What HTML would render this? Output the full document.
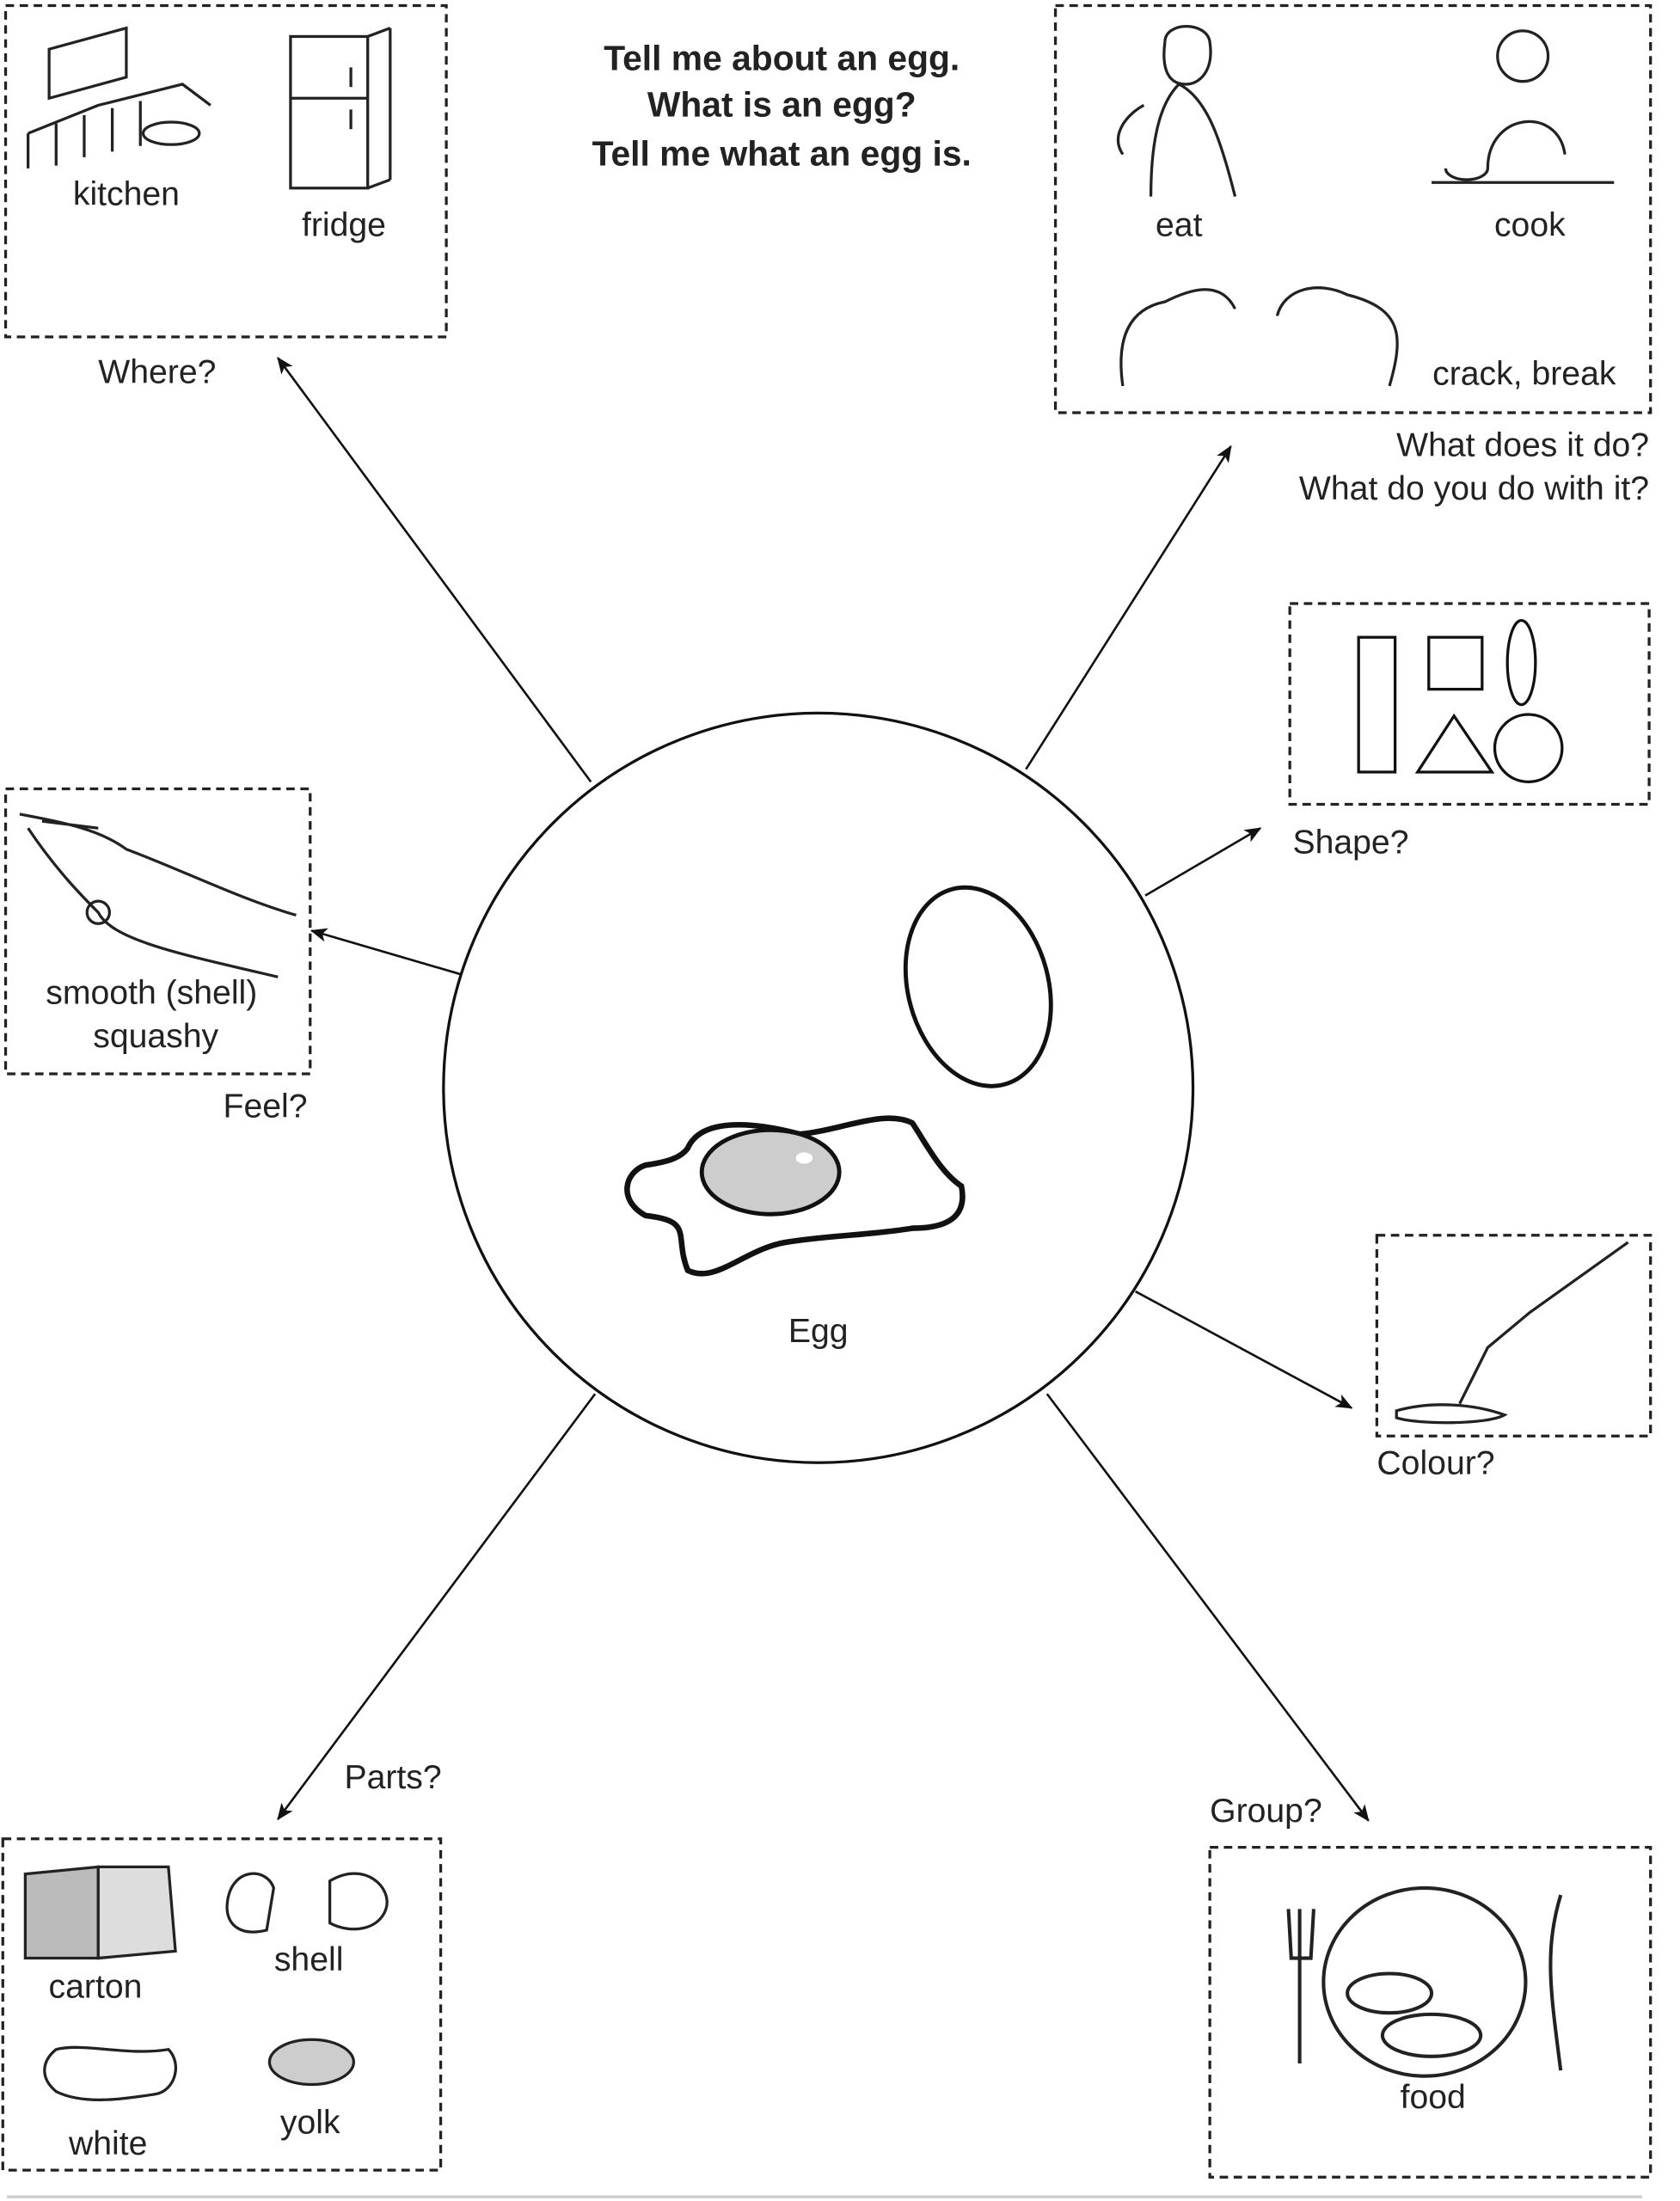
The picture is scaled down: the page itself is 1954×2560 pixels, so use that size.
<!DOCTYPE html>
<html><head><meta charset="utf-8"><style>
html,body{margin:0;padding:0;background:#fff}
svg{display:block}
text{font-family:"Liberation Sans",Arial,sans-serif;fill:#222}
</style></head><body>
<svg width="1954" height="2560" viewBox="0 0 1197 1568" preserveAspectRatio="none" xmlns="http://www.w3.org/2000/svg">
<defs>
<marker id="ah" markerWidth="12" markerHeight="10" refX="11" refY="5" orient="auto" markerUnits="userSpaceOnUse">
<path d="M0,0 L12,5 L0,10 L3,5 Z" fill="#111"/>
</marker>
</defs>
<g fill="none" stroke="#222" stroke-width="2" stroke-dasharray="6,4">
<rect x="4" y="4" width="314" height="236"/>
<rect x="752" y="4" width="424" height="290"/>
<rect x="919" y="430" width="256" height="143"/>
<rect x="4" y="562" width="217" height="203"/>
<rect x="981" y="880" width="195" height="143"/>
<rect x="2" y="1310" width="312" height="236"/>
<rect x="862" y="1316" width="314" height="235"/>
</g>
<line x1="5" y1="1565" x2="1170" y2="1565" stroke="#ccc" stroke-width="2"/>
<g stroke="#111" stroke-width="1.6" marker-end="url(#ah)">
<line x1="421" y1="557" x2="198" y2="255"/>
<line x1="731" y1="548" x2="877" y2="318"/>
<line x1="816" y1="638" x2="898" y2="590"/>
<line x1="328" y1="694" x2="222" y2="663"/>
<line x1="809" y1="920" x2="963" y2="1003"/>
<line x1="424" y1="993" x2="198" y2="1296"/>
<line x1="746" y1="993" x2="975" y2="1297"/>
</g>
<circle cx="583" cy="775" r="267" fill="#fff" stroke="#111" stroke-width="2"/>
<ellipse cx="697" cy="703" rx="50" ry="72" transform="rotate(-15 697 703)" fill="none" stroke="#111" stroke-width="3"/>
<path d="M490,818 C500,795 540,800 570,808 C600,805 630,790 650,800 C660,815 670,835 685,845 C690,870 670,875 650,875 C620,880 590,880 560,885 C530,890 510,915 490,905 C480,880 495,870 460,866 C440,855 445,835 460,830 C475,828 485,825 490,818 Z" fill="#fff" stroke="#111" stroke-width="4"/>
<ellipse cx="549" cy="835" rx="49" ry="30" fill="#cdcdcd" stroke="#111" stroke-width="3"/>
<ellipse cx="573" cy="825" rx="6" ry="4" fill="#fff"/>
<g fill="none" stroke="#111" stroke-width="2">
<rect x="968" y="454" width="26" height="96"/>
<rect x="1018" y="454" width="38" height="37"/>
<ellipse cx="1084" cy="472" rx="10" ry="30"/>
<polygon points="1010,550 1036,510 1063,550"/>
<circle cx="1089" cy="533" r="24"/>
</g>
<g fill="none" stroke="#222" stroke-width="2">
<rect x="207" y="26" width="55" height="108"/>
<line x1="207" y1="70" x2="262" y2="70"/>
<line x1="262" y1="26" x2="278" y2="20"/><line x1="278" y1="20" x2="278" y2="128"/><line x1="262" y1="134" x2="278" y2="128"/>
<line x1="250" y1="48" x2="250" y2="62"/><line x1="250" y1="78" x2="250" y2="92"/>
<path d="M20,95 L70,75 L130,60 L150,75 M20,95 L20,120 M40,88 L40,118 M60,82 L60,112 M80,77 L80,108 M100,72 L100,104 M35,35 L90,20 L90,55 L35,70 Z"/>
<ellipse cx="122" cy="95" rx="20" ry="8"/>
</g>
<path d="M14,580 C40,585 70,590 90,605 C130,620 170,640 211,652 M20,590 C40,620 60,640 70,650 C80,670 130,680 198,696 M30,585 L70,590" fill="none" stroke="#222" stroke-width="2"/>
<circle cx="70" cy="650" r="8" fill="none" stroke="#222" stroke-width="2"/>
<path d="M995,1005 C1020,998 1050,1000 1072,1008 C1060,1015 1010,1015 995,1010 Z M1040,1000 L1060,960 L1090,935 L1160,885" fill="none" stroke="#222" stroke-width="2"/>
<g fill="none" stroke="#222" stroke-width="2">
<path d="M820,140 C820,90 830,70 840,60 C860,70 870,100 880,140 M830,30 C830,15 860,15 862,30 C865,50 855,60 845,60 C830,60 828,45 830,30 M800,110 C790,95 805,80 815,75"/>
<circle cx="1085" cy="40" r="18"/>
<path d="M1060,120 C1060,80 1110,75 1115,110 M1020,130 L1150,130 M1030,120 a15,8 0 0 0 30,0"/>
<path d="M800,275 C795,240 805,220 830,215 C850,205 870,200 880,220 M990,275 C1000,240 1000,220 960,210 C940,200 915,205 910,225"/>
</g>
<g stroke="#222" stroke-width="2">
<path d="M18,1335 L70,1330 L70,1395 L18,1395 Z" fill="#bbb"/>
<path d="M70,1330 L120,1330 L125,1390 L70,1395 Z" fill="#ddd"/>
<path d="M162,1355 C165,1330 190,1330 195,1345 L190,1375 C170,1380 160,1370 162,1355 Z" fill="#fff"/>
<path d="M235,1340 C260,1325 280,1345 275,1360 C270,1375 250,1378 235,1370 Z" fill="#fff"/>
<path d="M40,1460 C60,1455 90,1465 120,1460 C130,1470 125,1490 110,1492 C90,1495 60,1500 40,1490 C28,1480 30,1468 40,1460 Z" fill="#fff"/>
<ellipse cx="222" cy="1469" rx="30" ry="16" fill="#cdcdcd"/>
</g>
<g fill="none" stroke="#222" stroke-width="2.5">
<ellipse cx="1015" cy="1412" rx="72" ry="67"/>
<path d="M926,1360 L926,1470 M918,1360 L920,1395 L934,1395 L936,1360 M1112,1350 C1100,1390 1105,1420 1112,1475"/>
<ellipse cx="990" cy="1420" rx="30" ry="14"/>
<ellipse cx="1020" cy="1450" rx="35" ry="15"/>
</g>
<g font-size="24" text-anchor="middle">
<text x="557" y="50" font-weight="bold" font-size="25">Tell me about an egg.</text>
<text x="557" y="83" font-weight="bold" font-size="25">What is an egg?</text>
<text x="557" y="118" font-weight="bold" font-size="25">Tell me what an egg is.</text>
<text x="90" y="146">kitchen</text>
<text x="245" y="168">fridge</text>
<text x="112" y="273">Where?</text>
<text x="840" y="168">eat</text>
<text x="1090" y="168">cook</text>
<text x="1086" y="274">crack, break</text>
<text x="1175" y="325" text-anchor="end">What does it do?</text>
<text x="1175" y="356" text-anchor="end">What do you do with it?</text>
<text x="921" y="608" text-anchor="start">Shape?</text>
<text x="108" y="715">smooth (shell)</text>
<text x="111" y="746">squashy</text>
<text x="189" y="796">Feel?</text>
<text x="583" y="956">Egg</text>
<text x="981" y="1050" text-anchor="start">Colour?</text>
<text x="280" y="1274">Parts?</text>
<text x="902" y="1298">Group?</text>
<text x="68" y="1423">carton</text>
<text x="220" y="1404">shell</text>
<text x="77" y="1535">white</text>
<text x="221" y="1520">yolk</text>
<text x="1021" y="1502">food</text>
</g>
</svg>
</body></html>
